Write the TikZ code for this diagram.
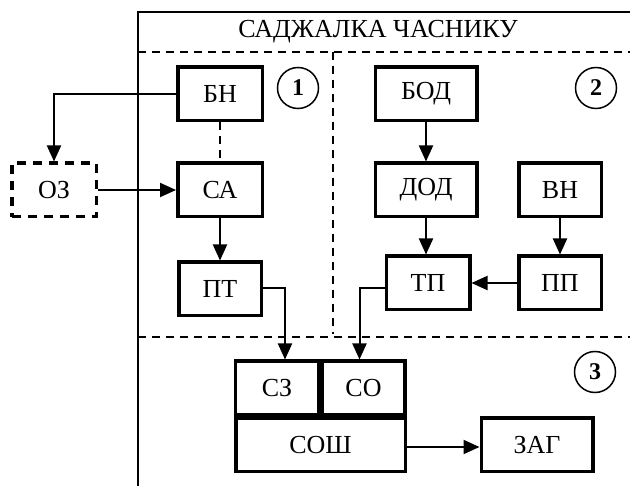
\documentclass[tikz,border=0pt]{standalone}
\usepackage{fontspec}
\setmainfont{Liberation Serif}
\usetikzlibrary{arrows.meta}
\begin{document}
\begin{tikzpicture}[x=1pt,y=-1pt,>={Triangle[length=16pt,width=14pt]},
	font=\fontsize{26}{31}\selectfont,
	blok/.style={draw,line width=3.5pt,inner sep=0pt,minimum height=53.5pt},
	num/.style={draw,circle,line width=1.5pt,inner sep=0pt,minimum size=41pt,font=\fontsize{24}{28}\selectfont\bfseries},
	con/.style={line width=2pt},
	dsh/.style={line width=2pt,dash pattern=on 8pt off 6pt}]
	\useasboundingbox (0,0) rectangle (630,486);
	% frame and zones
	\draw[con] (630,12)--(138,12)--(138,486);
	\node (title) at (378,32) {САДЖАЛКА ЧАСНИКУ};
	\draw[dsh] (138,52)--(630,52);
	\draw[dsh] (138,337)--(630,337);
	\draw[dsh] (333,52)--(333,334);
	\node[num] (n1) at (298,88) {1};
	\node[num] (n2) at (596,88) {2};
	\node[num] (n3) at (595,372) {3};
	% zone 1
	\node[blok,minimum width=84.5pt] (bn) at (220,94) {БН};
	\node[blok,minimum width=84.5pt] (sa) at (220,190) {СА};
	\node[blok,minimum width=84.5pt,dash pattern=on 9pt off 7pt] (oz) at (54,190) {ОЗ};
	\node[blok,minimum width=82.5pt] (pt) at (220,289) {ПТ};
	% zone 2
	\node[blok,minimum width=101.5pt] (bod) at (426,94) {БОД};
	\node[blok,minimum width=101.5pt] (dod) at (426,190) {ДОД};
	\node[blok,minimum width=82.5pt] (vn) at (560,190) {ВН};
	\node[blok,minimum width=83.5pt] (tp) at (428,283) {ТП};
	\node[blok,minimum width=82.5pt] (pp) at (560,283) {ПП};
	% zone 3
	\node[blok,minimum width=83pt] (sz) at (277,388) {СЗ};
	\node[blok,minimum width=83pt] (so) at (363.5,388) {СО};
	\node[blok,minimum width=169.5pt] (sosh) at (320.5,445) {СОШ};
	\node[blok,minimum width=111.5pt] (zag) at (537,445) {ЗАГ};
	% links
	\draw[con,->] (bn.west) -| (oz.north);
	\draw[con,->] (oz.east)--(sa.west);
	\draw[dsh] (bn.south)--(sa.north);
	\draw[con,->] (sa.south)--(pt.north);
	\draw[con,->] ([yshift=1pt]pt.east) -| ([xshift=8pt]sz.north);
	\draw[con,->] (bod.south)--(dod.north);
	\draw[con,->] (dod.south)--(dod.south |- tp.north);
	\draw[con,->] (vn.south)--(pp.north);
	\draw[con,->] (pp.west)--(tp.east);
	\draw[con,->] ([yshift=-5pt]tp.west) -| ([xshift=-4pt]so.north);
	\draw[con,->] ([yshift=-2pt]sosh.east)--([yshift=-2pt]zag.west);
\end{tikzpicture}
\end{document}
